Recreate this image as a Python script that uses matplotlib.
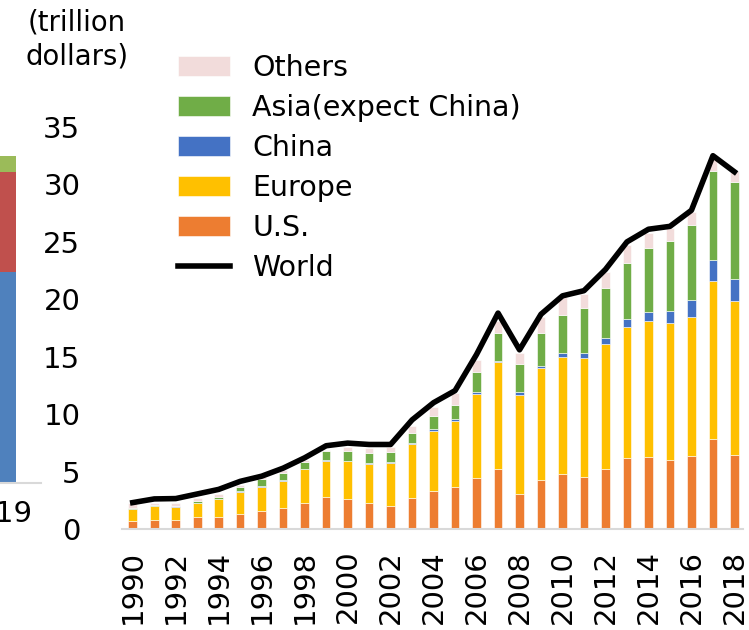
import matplotlib.pyplot as plt
import numpy as np

years = list(range(1990, 2019))

# trillion dollars
us = [0.72, 0.81, 0.81, 1.08, 1.08, 1.34, 1.60, 1.86, 2.30, 2.82,
      2.65, 2.27, 2.00, 2.68, 3.34, 3.63, 4.47, 5.26, 3.07, 4.30,
      4.79, 4.52, 5.20, 6.20, 6.28, 6.00, 6.34, 7.80, 6.43]
europe = [1.05, 1.19, 1.14, 1.20, 1.50, 1.92, 2.09, 2.35, 2.90, 3.14,
          3.23, 3.43, 3.77, 4.68, 5.22, 5.80, 7.30, 9.24, 8.63, 9.70,
          10.19, 10.38, 10.90, 11.40, 11.82, 11.90, 12.16, 13.80, 13.42]
china = [0.01, 0.01, 0.01, 0.02, 0.02, 0.02, 0.02, 0.03, 0.03, 0.04,
         0.05, 0.06, 0.07, 0.10, 0.12, 0.12, 0.17, 0.10, 0.20, 0.17,
         0.32, 0.40, 0.50, 0.70, 0.80, 1.10, 1.40, 1.80, 1.95]
asia = [0.08, 0.06, 0.08, 0.10, 0.15, 0.41, 0.62, 0.68, 0.62, 0.75,
        0.90, 0.90, 0.85, 0.92, 1.12, 1.25, 1.76, 2.50, 2.50, 2.93,
        3.30, 3.90, 4.40, 4.90, 5.60, 6.10, 6.60, 7.80, 8.40]
others = [0.41, 0.17, 0.26, 0.28, 0.33, 0.15, 0.20, 0.20, 0.17, 0.15,
          0.34, 0.37, 0.41, 0.60, 0.80, 1.00, 1.00, 1.00, 0.90, 1.40,
          1.60, 1.30, 1.40, 1.50, 1.30, 1.10, 1.10, 1.00, 1.00]
world = [2.30, 2.62, 2.65, 3.05, 3.45, 4.15, 4.60, 5.30, 6.20, 7.25,
         7.48, 7.36, 7.36, 9.50, 11.00, 12.05, 15.20, 18.80, 15.60, 18.70,
         20.30, 20.75, 22.60, 25.00, 26.10, 26.35, 27.75, 32.50, 31.10]

# neighbouring chart (only its last bar is visible)
prev_cat = ['2019']
prev_blue = [21.1]
prev_red = [10.0]
prev_green = [1.6]

fig = plt.figure(figsize=(7.49, 6.30), dpi=100)

# --- left neighbour chart ---
axl = fig.add_axes([-0.0801, 0.2333, 0.1348, 0.6079])
xl = np.arange(len(prev_cat))
axl.bar(xl, prev_blue, 0.4, color='#4F81BD')
axl.bar(xl, prev_red, 0.4, bottom=prev_blue, color='#C0504D')
axl.bar(xl, prev_green, 0.4, bottom=np.add(prev_blue, prev_red), color='#9BBB59')
axl.set_xlim(-0.56, 0.45)
axl.set_ylim(0, 38.3)
axl.set_xticks(xl)
axl.set_xticklabels(prev_cat, fontsize=21)
axl.set_yticks([])
for s in ['top', 'right', 'left']:
    axl.spines[s].set_visible(False)
axl.spines['bottom'].set_color('#D9D9D9')
axl.spines['bottom'].set_linewidth(1.5)
axl.tick_params(axis='x', length=0, pad=12)
axl.patch.set_alpha(0)

# --- main chart ---
ax = fig.add_axes([0.1629, 0.1603, 0.8291, 0.6381])
x = np.arange(len(years))
w = 0.4
ec = dict(edgecolor='white', linewidth=0.4)

b1 = ax.bar(x, us, w, color='#ED7D31', label='U.S.', **ec)
bot = np.array(us)
b2 = ax.bar(x, europe, w, bottom=bot, color='#FFC000', label='Europe', **ec)
bot = bot + europe
b3 = ax.bar(x, china, w, bottom=bot, color='#4472C4', label='China', **ec)
bot = bot + china
b4 = ax.bar(x, asia, w, bottom=bot, color='#70AD47', label='Asia(expect China)', **ec)
bot = bot + asia
b5 = ax.bar(x, others, w, bottom=bot, color='#F2DCDB', label='Others', **ec)
ln, = ax.plot(x, world, color='black', linewidth=4.0, label='World', zorder=5)

ax.set_xlim(-0.5, 28.4)
ax.set_ylim(0, 35)
ax.set_yticks(range(0, 36, 5))
ax.set_xticks(x[::2])
ax.set_xticklabels([str(y) for y in years[::2]], rotation=90, fontsize=21)
ax.tick_params(axis='y', length=0, pad=30, labelsize=21)
ax.tick_params(axis='x', length=0, pad=15)
for s in ['top', 'right', 'left']:
    ax.spines[s].set_visible(False)
ax.spines['bottom'].set_color('#D9D9D9')
ax.spines['bottom'].set_linewidth(1.5)
ax.patch.set_alpha(0)

fig.text(77 / 749, 1 - 8 / 630, '(trillion\ndollars)', ha='center', va='top',
         fontsize=19.8, linespacing=1.3)

fig.legend([b5, b4, b3, b2, b1, ln],
           ['Others', 'Asia(expect China)', 'China', 'Europe', 'U.S.', 'World'],
           loc='upper left', bbox_to_anchor=(178 / 749, 1 - 54 / 630),
           frameon=False, fontsize=20.5, borderpad=0, borderaxespad=0,
           handlelength=1.83, handleheight=0.67, handletextpad=0.77,
           labelspacing=0.42)

fig.savefig('out.png', dpi=100)
